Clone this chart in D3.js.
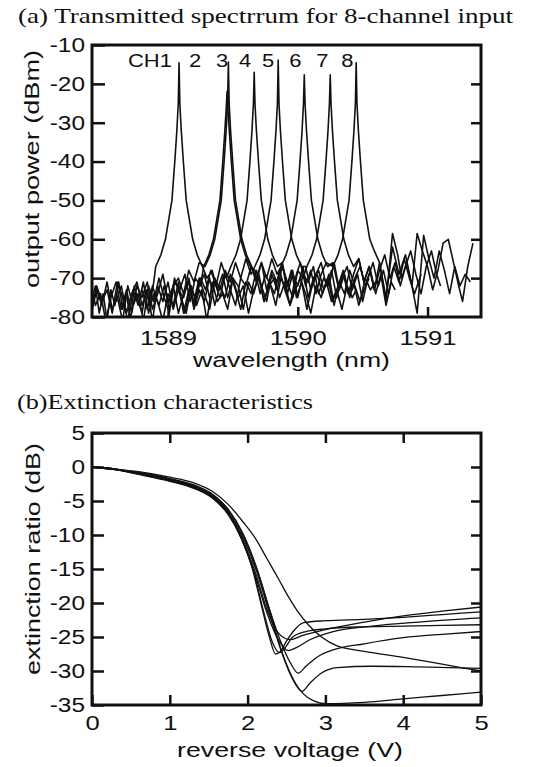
<!DOCTYPE html>
<html>
<head>
<meta charset="utf-8">
<script src="https://cdn.jsdelivr.net/npm/d3@7"></script>
<style>
  body { margin: 0; background: #fff; }
  svg { display: block; }
  .sans { font-family: "Liberation Sans", Arial, sans-serif; fill: #111; }
  .serif { font-family: "Liberation Serif", "Times New Roman", serif; fill: #111; }
</style>
</head>
<body>
<div id="container"></div>
<script>
// ---------- (a) spectrum data: [wavelength nm, power dBm] ----------
var ch1 = [[1588.41,-76],[1588.44,-72],[1588.47,-79],[1588.50,-74],[1588.53,-81],[1588.56,-73],[1588.59,-77],[1588.62,-71],[1588.65,-78],[1588.68,-74],[1588.71,-81],[1588.74,-72],[1588.77,-76],[1588.80,-79],[1588.83,-73],[1588.86,-77],[1588.89,-71],[1588.905,-67],[1588.945,-64],[1588.98,-60],[1589.005,-55],[1589.03,-50],[1589.052,-40],[1589.068,-32],[1589.079,-25],[1589.085,-14.6],[1589.091,-25],[1589.102,-32],[1589.118,-40],[1589.14,-50],[1589.165,-55],[1589.19,-60],[1589.225,-64],[1589.265,-67],[1589.30,-70],[1589.34,-68],[1589.38,-73],[1589.42,-69],[1589.46,-75],[1589.50,-70],[1589.54,-72],[1589.58,-78],[1589.62,-71],[1589.66,-74],[1589.70,-69],[1589.74,-76],[1589.78,-72],[1589.82,-70],[1589.86,-75],[1589.90,-71],[1589.94,-77],[1589.98,-73],[1590.02,-70],[1590.06,-74],[1590.10,-79],[1590.14,-72],[1590.18,-75],[1590.22,-71],[1590.26,-76],[1590.30,-73],[1590.34,-78],[1590.38,-72],[1590.42,-75],[1590.45,-73]];
var ch2 = [[1588.41,-79],[1588.45,-73],[1588.49,-77],[1588.53,-71],[1588.57,-78],[1588.61,-75],[1588.65,-81],[1588.69,-72],[1588.73,-77],[1588.77,-74],[1588.81,-81],[1588.85,-72],[1588.89,-76],[1588.93,-70],[1588.97,-75],[1589.01,-79],[1589.05,-71],[1589.09,-73],[1589.13,-69],[1589.17,-76],[1589.21,-70],[1589.25,-72],[1589.275,-67],[1589.315,-64],[1589.35,-60],[1589.375,-55],[1589.40,-50],[1589.422,-40],[1589.438,-32],[1589.449,-26],[1589.455,-22],[1589.461,-26],[1589.472,-32],[1589.488,-40],[1589.51,-50],[1589.535,-55],[1589.56,-60],[1589.595,-64],[1589.635,-67],[1589.67,-68],[1589.71,-74],[1589.75,-69],[1589.79,-72],[1589.83,-77],[1589.87,-70],[1589.91,-73],[1589.95,-68],[1589.99,-75],[1590.03,-71],[1590.07,-78],[1590.11,-72],[1590.15,-69],[1590.19,-74],[1590.23,-70],[1590.27,-76],[1590.31,-72],[1590.35,-69],[1590.39,-74],[1590.43,-71],[1590.47,-77],[1590.51,-73],[1590.55,-70]];
var ch3 = [[1588.41,-72],[1588.44,-77],[1588.48,-74],[1588.52,-81],[1588.56,-75],[1588.60,-71],[1588.64,-78],[1588.68,-73],[1588.72,-79],[1588.76,-72],[1588.80,-75],[1588.84,-71],[1588.88,-78],[1588.92,-74],[1588.96,-69],[1589.00,-76],[1589.04,-72],[1589.08,-70],[1589.12,-74],[1589.16,-68],[1589.20,-71],[1589.24,-66],[1589.285,-67],[1589.325,-64],[1589.36,-60],[1589.385,-55],[1589.41,-50],[1589.432,-40],[1589.448,-32],[1589.459,-25],[1589.465,-14.4],[1589.471,-25],[1589.482,-32],[1589.498,-40],[1589.52,-50],[1589.545,-55],[1589.57,-60],[1589.605,-64],[1589.645,-67],[1589.68,-70],[1589.72,-66],[1589.76,-73],[1589.80,-68],[1589.84,-71],[1589.88,-66],[1589.92,-74],[1589.96,-69],[1590.00,-72],[1590.04,-67],[1590.08,-75],[1590.12,-70],[1590.16,-68],[1590.20,-73],[1590.24,-69],[1590.28,-77],[1590.32,-71],[1590.36,-74],[1590.40,-68],[1590.44,-72],[1590.48,-76],[1590.52,-70],[1590.56,-73],[1590.60,-71]];
var ch4 = [[1588.41,-78],[1588.45,-72],[1588.49,-76],[1588.53,-73],[1588.57,-79],[1588.61,-71],[1588.65,-75],[1588.69,-81],[1588.73,-73],[1588.77,-77],[1588.81,-71],[1588.85,-79],[1588.89,-74],[1588.93,-77],[1588.97,-72],[1589.01,-78],[1589.05,-70],[1589.09,-74],[1589.13,-79],[1589.17,-72],[1589.21,-75],[1589.25,-70],[1589.29,-73],[1589.33,-68],[1589.37,-72],[1589.41,-66],[1589.45,-70],[1589.484,-67],[1589.524,-64],[1589.559,-60],[1589.584,-55],[1589.609,-50],[1589.631,-40],[1589.647,-32],[1589.658,-25],[1589.664,-17],[1589.67,-25],[1589.681,-32],[1589.697,-40],[1589.719,-50],[1589.744,-55],[1589.769,-60],[1589.804,-64],[1589.844,-67],[1589.88,-66],[1589.92,-72],[1589.96,-68],[1590.00,-75],[1590.04,-69],[1590.08,-71],[1590.12,-67],[1590.16,-74],[1590.20,-70],[1590.24,-72],[1590.28,-66],[1590.32,-73],[1590.36,-69],[1590.40,-75],[1590.44,-70],[1590.48,-67],[1590.52,-72],[1590.56,-68],[1590.60,-74],[1590.64,-69],[1590.68,-77],[1590.72,-71],[1590.75,-73]];
var ch5 = [[1588.60,-76],[1588.64,-72],[1588.68,-79],[1588.72,-74],[1588.76,-71],[1588.80,-77],[1588.84,-73],[1588.88,-81],[1588.92,-72],[1588.96,-76],[1589.00,-71],[1589.04,-78],[1589.08,-73],[1589.12,-75],[1589.16,-70],[1589.20,-77],[1589.24,-72],[1589.28,-69],[1589.32,-75],[1589.36,-70],[1589.40,-73],[1589.44,-68],[1589.48,-71],[1589.52,-66],[1589.56,-70],[1589.60,-65],[1589.64,-69],[1589.669,-67],[1589.709,-64],[1589.744,-60],[1589.769,-55],[1589.794,-50],[1589.816,-40],[1589.832,-32],[1589.843,-25],[1589.849,-13.9],[1589.855,-25],[1589.866,-32],[1589.882,-40],[1589.904,-50],[1589.929,-55],[1589.954,-60],[1589.989,-64],[1590.029,-67],[1590.06,-67],[1590.10,-73],[1590.14,-69],[1590.18,-66],[1590.22,-72],[1590.26,-68],[1590.30,-75],[1590.34,-70],[1590.38,-67],[1590.42,-73],[1590.46,-69],[1590.50,-76],[1590.54,-70],[1590.58,-66],[1590.62,-72],[1590.66,-68],[1590.70,-74],[1590.74,-67],[1590.78,-71],[1590.82,-65],[1590.86,-70],[1590.90,-74],[1590.95,-69]];
var ch6 = [[1588.80,-73],[1588.84,-78],[1588.88,-72],[1588.92,-76],[1588.96,-81],[1589.00,-74],[1589.04,-77],[1589.08,-71],[1589.12,-79],[1589.16,-73],[1589.20,-76],[1589.24,-70],[1589.28,-74],[1589.32,-78],[1589.36,-71],[1589.40,-75],[1589.44,-69],[1589.48,-73],[1589.52,-77],[1589.56,-70],[1589.60,-72],[1589.64,-67],[1589.68,-71],[1589.72,-66],[1589.76,-70],[1589.80,-65],[1589.84,-69],[1589.87,-67],[1589.91,-64],[1589.945,-60],[1589.97,-55],[1589.995,-50],[1590.017,-40],[1590.033,-32],[1590.044,-25],[1590.05,-17.7],[1590.056,-25],[1590.067,-32],[1590.083,-40],[1590.105,-50],[1590.13,-55],[1590.155,-60],[1590.19,-64],[1590.23,-67],[1590.27,-66],[1590.31,-72],[1590.35,-68],[1590.39,-74],[1590.43,-69],[1590.47,-65],[1590.51,-71],[1590.55,-67],[1590.59,-73],[1590.63,-68],[1590.67,-64],[1590.71,-70],[1590.75,-66],[1590.79,-72],[1590.83,-67],[1590.87,-63],[1590.91,-69],[1590.95,-74],[1590.99,-67],[1591.03,-63],[1591.07,-69],[1591.10,-72]];
var ch7 = [[1589.00,-77],[1589.04,-72],[1589.08,-79],[1589.12,-74],[1589.16,-71],[1589.20,-78],[1589.24,-73],[1589.28,-76],[1589.32,-70],[1589.36,-77],[1589.40,-72],[1589.44,-75],[1589.48,-69],[1589.52,-73],[1589.56,-78],[1589.60,-71],[1589.64,-74],[1589.68,-68],[1589.72,-72],[1589.76,-76],[1589.80,-69],[1589.84,-73],[1589.88,-67],[1589.92,-71],[1589.96,-75],[1590.00,-68],[1590.04,-70],[1590.07,-67],[1590.11,-64],[1590.145,-60],[1590.17,-55],[1590.195,-50],[1590.217,-40],[1590.233,-32],[1590.244,-25],[1590.25,-17.7],[1590.256,-25],[1590.267,-32],[1590.283,-40],[1590.305,-50],[1590.33,-55],[1590.355,-60],[1590.39,-64],[1590.43,-67],[1590.47,-65],[1590.51,-71],[1590.55,-67],[1590.59,-73],[1590.63,-66],[1590.68,-75],[1590.73,-62],[1590.78,-69],[1590.83,-64],[1590.88,-72],[1590.92,-79],[1590.97,-59],[1591.01,-65],[1591.05,-70],[1591.09,-63],[1591.13,-68],[1591.17,-74],[1591.21,-67],[1591.25,-72],[1591.29,-69],[1591.33,-71]];
var ch8 = [[1589.10,-75],[1589.14,-79],[1589.18,-72],[1589.22,-77],[1589.26,-73],[1589.30,-81],[1589.34,-71],[1589.38,-76],[1589.42,-74],[1589.46,-78],[1589.50,-70],[1589.54,-75],[1589.58,-72],[1589.62,-79],[1589.66,-73],[1589.70,-70],[1589.74,-76],[1589.78,-71],[1589.82,-74],[1589.86,-68],[1589.90,-73],[1589.94,-77],[1589.98,-70],[1590.02,-66],[1590.06,-72],[1590.10,-68],[1590.14,-74],[1590.18,-69],[1590.22,-66],[1590.27,-67],[1590.31,-64],[1590.345,-60],[1590.37,-55],[1590.395,-50],[1590.417,-40],[1590.433,-32],[1590.444,-25],[1590.45,-14.6],[1590.456,-25],[1590.467,-32],[1590.483,-40],[1590.505,-50],[1590.53,-55],[1590.555,-60],[1590.59,-63],[1590.63,-66],[1590.68,-76],[1590.73,-58.5],[1590.77,-64],[1590.80,-70],[1590.84,-66],[1590.88,-72],[1590.92,-58.5],[1590.96,-63],[1591.00,-67],[1591.04,-73],[1591.08,-68],[1591.12,-61],[1591.16,-60],[1591.20,-66],[1591.24,-72],[1591.27,-76],[1591.31,-67],[1591.35,-61]];
var spectra = [ch1, ch2, ch3, ch4, ch5, ch6, ch7, ch8];

var chLabels = ["CH1", "2", "3", "4", "5", "6", "7", "8"];
var chLabelWl = [1588.861, 1589.208, 1589.417, 1589.595, 1589.772, 1589.981, 1590.189, 1590.382];
var wlTicks = [1589, 1590, 1591];
var powTicks = [-10, -20, -30, -40, -50, -60, -70, -80];

// ---------- (b) extinction data: [reverse voltage V, extinction dB] ----------
var extA = [[0,0],[0.3,-0.4],[0.6,-1.0],[1,-1.9],[1.3,-2.9],[1.55,-4.3],[1.75,-6.6],[1.9,-9.8],[2.05,-14.5],[2.17,-20],[2.28,-25],[2.36,-27.5],[2.43,-27],[2.5,-25.6],[2.6,-24],[2.72,-22.9],[3.0,-22.6],[3.5,-22.4],[4.0,-22.1],[4.5,-21.7],[5,-21.3]];
var extB = [[0,0],[0.3,-0.4],[0.6,-1.1],[1,-2.1],[1.3,-3.1],[1.55,-4.6],[1.75,-7],[1.92,-10.5],[2.08,-15.5],[2.2,-21],[2.32,-25.8],[2.41,-27.3],[2.48,-26.6],[2.58,-25],[2.75,-24.2],[3.0,-23.8],[3.5,-23.5],[4,-23.4],[5,-23.2]];
var extC = [[0,0],[0.3,-0.3],[0.6,-0.9],[1,-1.8],[1.3,-2.7],[1.55,-4.1],[1.75,-6.3],[1.95,-10.2],[2.12,-15],[2.27,-20.5],[2.42,-25.5],[2.55,-28.8],[2.65,-30.3],[2.75,-29.3],[2.9,-27.9],[3.1,-26.9],[3.5,-26],[4,-25.1],[4.5,-24.6],[5,-24.2]];
var extD = [[0,0],[0.3,-0.3],[0.6,-0.9],[1,-1.8],[1.3,-2.8],[1.55,-4.3],[1.75,-6.6],[1.95,-10.6],[2.12,-15.5],[2.28,-21.5],[2.43,-27],[2.57,-31],[2.7,-33],[2.8,-31.8],[2.95,-30.3],[3.15,-29.5],[3.6,-29.3],[4.2,-29.4],[5,-29.6]];
var extE = [[0,0],[0.3,-0.3],[0.6,-0.8],[1,-1.7],[1.3,-2.6],[1.55,-4],[1.75,-6.2],[1.95,-10],[2.12,-15],[2.28,-21],[2.45,-27.5],[2.6,-31.5],[2.72,-33.4],[2.85,-34.4],[3.0,-34.8],[3.5,-34.6],[4,-34.1],[4.5,-33.6],[5,-33.1]];
var extF = [[0,0],[0.3,-0.3],[0.6,-0.7],[1,-1.5],[1.3,-2.3],[1.55,-3.6],[1.75,-5.5],[1.95,-8.2],[2.1,-10.5],[2.25,-13.5],[2.4,-16.5],[2.52,-19],[2.63,-21],[2.78,-23.2],[2.95,-25],[3.15,-26.3],[3.5,-27.1],[4,-28],[4.5,-29],[5,-30]];
var extG = [[0,0],[0.3,-0.35],[0.6,-1.0],[1,-2.0],[1.3,-3.0],[1.55,-4.5],[1.75,-6.8],[1.93,-10.5],[2.1,-15.5],[2.25,-21],[2.38,-24.2],[2.55,-25.4],[2.7,-24.8],[3,-23.9],[3.5,-22.8],[4,-21.9],[4.5,-21.2],[5,-20.6]];
var extH = [[0,0],[0.3,-0.4],[0.6,-1.0],[1,-2.0],[1.3,-3.0],[1.55,-4.4],[1.75,-6.8],[1.93,-10.8],[2.1,-16],[2.25,-21.5],[2.4,-25.5],[2.52,-27],[2.62,-26.6],[2.8,-25.4],[3.1,-24.2],[3.6,-23.4],[4.2,-22.8],[5,-22.2]];
var extinction = [extA, extB, extC, extD, extE, extF, extG, extH];

var voltTicks = [0, 1, 2, 3, 4, 5];
var extTicks = [5, 0, -5, -10, -15, -20, -25, -30, -35];

var W = 534, H = 767;
var left = 92, right = 481;
var stretchX = 1.22;

var svg = d3.select("#container").append("svg")
    .attr("width", W)
    .attr("height", H);

// widen glyphs horizontally, like the scanned original
function widen(sel, k) {
    sel.each(function() {
        var w = this.getComputedTextLength();
        d3.select(this).attr("textLength", w * k).attr("lengthAdjust", "spacingAndGlyphs");
    });
}

// ================= (a) =================
var x1 = d3.scaleLinear().domain([1588.414, 1591.412]).range([left, right]);
var y1 = d3.scaleLinear().domain([-80, -10]).range([317, 45]);

svg.append("text").attr("class", "serif")
    .attr("x", 18).attr("y", 23)
    .attr("font-size", 21)
    .attr("textLength", 495).attr("lengthAdjust", "spacingAndGlyphs")
    .text("(a) Transmitted spectrrum for 8-channel input");

svg.append("clipPath").attr("id", "clipA")
    .append("rect").attr("x", left).attr("y", 45).attr("width", right - left).attr("height", 272);

var lineA = d3.line()
    .x(function(d) { return x1(d[0]); })
    .y(function(d) { return y1(d[1]); });

svg.append("g").attr("clip-path", "url(#clipA)")
  .selectAll("path")
    .data(spectra)
  .enter().append("path")
    .attr("d", lineA)
    .attr("fill", "none")
    .attr("stroke", "#111")
    .attr("stroke-width", 1.6)
    .attr("stroke-linejoin", "round");

var gy1 = svg.append("g")
    .attr("transform", "translate(" + left + ",0)")
    .call(d3.axisLeft(y1).tickValues(powTicks).tickSizeInner(-13).tickSizeOuter(0).tickPadding(7));
var gy1r = svg.append("g")
    .attr("transform", "translate(" + right + ",0)")
    .call(d3.axisRight(y1).tickValues(powTicks.slice(1, -1)).tickSizeInner(-10).tickSizeOuter(0).tickFormat(""));
var gx1 = svg.append("g")
    .attr("transform", "translate(0,317)")
    .call(d3.axisBottom(x1).tickValues(wlTicks).tickSizeInner(-10).tickSizeOuter(0).tickPadding(13).tickFormat(d3.format("d")));

[gy1, gy1r, gx1].forEach(function(g) {
    g.select(".domain").remove();
    g.selectAll(".tick line").attr("stroke", "#111").attr("stroke-width", 2.5);
});
gy1.selectAll("text").attr("class", "sans").attr("font-size", 20).text(function(d) { return d; });
gx1.selectAll("text").attr("class", "sans").attr("font-size", 21);
widen(gy1.selectAll("text"), stretchX);
widen(gx1.selectAll("text"), stretchX);

svg.append("rect")
    .attr("x", left).attr("y", 45).attr("width", right - left).attr("height", 272)
    .attr("fill", "none").attr("stroke", "#111").attr("stroke-width", 3);

var chText = svg.append("g").selectAll("text")
    .data(chLabels)
  .enter().append("text")
    .attr("class", "sans")
    .attr("x", function(d, i) { return x1(chLabelWl[i]); })
    .attr("y", 67)
    .attr("text-anchor", "middle")
    .attr("font-size", 18)
    .text(function(d) { return d; });
widen(chText, stretchX);

svg.append("text").attr("class", "sans")
    .attr("transform", "translate(39,169) rotate(-90)")
    .attr("text-anchor", "middle")
    .attr("font-size", 20)
    .attr("textLength", 238).attr("lengthAdjust", "spacingAndGlyphs")
    .text("output power (dBm)");

svg.append("text").attr("class", "sans")
    .attr("x", 291.5).attr("y", 367)
    .attr("text-anchor", "middle")
    .attr("font-size", 21)
    .attr("textLength", 197).attr("lengthAdjust", "spacingAndGlyphs")
    .text("wavelength (nm)");

// ================= (b) =================
var x2 = d3.scaleLinear().domain([0, 5]).range([left, right]);
var y2 = d3.scaleLinear().domain([-35, 5]).range([705, 433]);

svg.append("text").attr("class", "serif")
    .attr("x", 17).attr("y", 409)
    .attr("font-size", 21)
    .attr("textLength", 296).attr("lengthAdjust", "spacingAndGlyphs")
    .text("(b)Extinction characteristics");

svg.append("clipPath").attr("id", "clipB")
    .append("rect").attr("x", left).attr("y", 433).attr("width", right - left).attr("height", 272);

var lineB = d3.line()
    .curve(d3.curveMonotoneX)
    .x(function(d) { return x2(d[0]); })
    .y(function(d) { return y2(d[1]); });

svg.append("g").attr("clip-path", "url(#clipB)")
  .selectAll("path")
    .data(extinction)
  .enter().append("path")
    .attr("d", lineB)
    .attr("fill", "none")
    .attr("stroke", "#111")
    .attr("stroke-width", 1.3);

var gy2 = svg.append("g")
    .attr("transform", "translate(" + left + ",0)")
    .call(d3.axisLeft(y2).tickValues(extTicks).tickSizeInner(-12).tickSizeOuter(0).tickPadding(7));
var gy2r = svg.append("g")
    .attr("transform", "translate(" + right + ",0)")
    .call(d3.axisRight(y2).tickValues(extTicks.slice(1, -1)).tickSizeInner(-10).tickSizeOuter(0).tickFormat(""));
var gx2 = svg.append("g")
    .attr("transform", "translate(0,705)")
    .call(d3.axisBottom(x2).tickValues(voltTicks).tickSizeInner(-10).tickSizeOuter(0).tickPadding(10).tickFormat(d3.format("d")));
var gx2t = svg.append("g")
    .attr("transform", "translate(0,433)")
    .call(d3.axisTop(x2).tickValues(voltTicks.slice(1, -1)).tickSizeInner(-10).tickSizeOuter(0).tickFormat(""));

[gy2, gy2r, gx2, gx2t].forEach(function(g) {
    g.select(".domain").remove();
    g.selectAll(".tick line").attr("stroke", "#111").attr("stroke-width", 2.5);
});
gy2.selectAll("text").attr("class", "sans").attr("font-size", 20).text(function(d) { return d; });
gx2.selectAll("text").attr("class", "sans").attr("font-size", 21);
widen(gy2.selectAll("text"), stretchX);
widen(gx2.selectAll("text"), stretchX);

svg.append("rect")
    .attr("x", left).attr("y", 433).attr("width", right - left).attr("height", 272)
    .attr("fill", "none").attr("stroke", "#111").attr("stroke-width", 3);

svg.append("text").attr("class", "sans")
    .attr("transform", "translate(40,559) rotate(-90)")
    .attr("text-anchor", "middle")
    .attr("font-size", 20)
    .attr("textLength", 232).attr("lengthAdjust", "spacingAndGlyphs")
    .text("extinction ratio (dB)");

svg.append("text").attr("class", "sans")
    .attr("x", 290).attr("y", 757)
    .attr("text-anchor", "middle")
    .attr("font-size", 21)
    .attr("textLength", 226).attr("lengthAdjust", "spacingAndGlyphs")
    .text("reverse voltage (V)");
</script>
</body>
</html>
